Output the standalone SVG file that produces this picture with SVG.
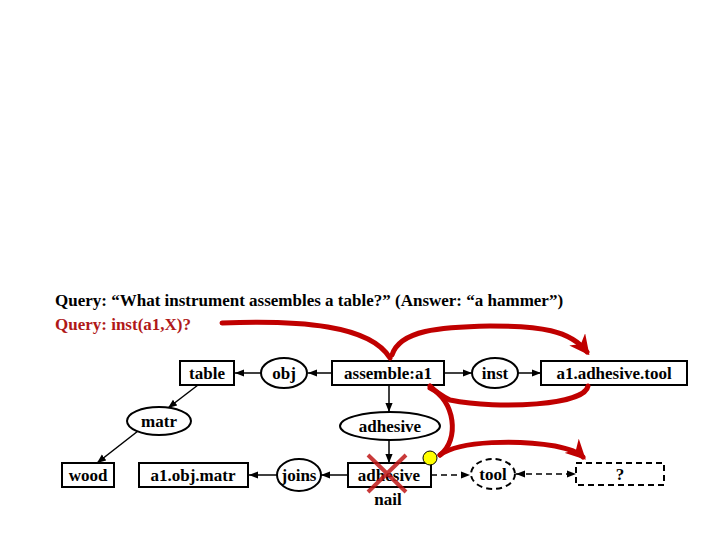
<svg xmlns="http://www.w3.org/2000/svg" width="720" height="540" viewBox="0 0 720 540">
<defs>
<style>
text{font-family:"Liberation Serif",serif;font-weight:bold;font-size:17px;text-anchor:middle}
.b{fill:#fff;stroke:#000;stroke-width:2}
.d{fill:#fff;stroke:#000;stroke-width:2;stroke-dasharray:6,4}
.c{stroke:#000;stroke-width:1.5;fill:none}
.r{stroke:#c00000;stroke-width:5;fill:none;stroke-linecap:round}
</style>
<marker id="a" viewBox="0 0 10 10" refX="10" refY="5" markerWidth="6" markerHeight="6" orient="auto-start-reverse"><path d="M0,1L10,5L0,9z" fill="#000"/></marker>
<marker id="ra" viewBox="0 0 10 10" refX="8" refY="5" markerWidth="4" markerHeight="4" orient="auto"><path d="M0,0L10,5L0,10L3,5z" fill="#c00000"/></marker>
</defs>
<rect width="720" height="540" fill="#fff"/>
<text x="55" y="306" style="text-anchor:start">Query: “What instrument assembles a table?” (Answer: “a hammer”)</text>
<text x="55" y="330" style="text-anchor:start;fill:#b01818">Query: inst(a1,X)?</text>
<g id="connectors">
<path class="c" d="M332,373H308" marker-end="url(#a)"/>
<path class="c" d="M261,373H235" marker-end="url(#a)"/>
<path class="c" d="M444,373H472" marker-end="url(#a)"/>
<path class="c" d="M518,373H541" marker-end="url(#a)"/>
<path class="c" d="M198,385L168,408" marker-end="url(#a)"/>
<path class="c" d="M138,431L97,463" marker-end="url(#a)"/>
<path class="c" d="M389,385V412" marker-end="url(#a)"/>
<path class="c" d="M389,440V463" marker-end="url(#a)"/>
<path class="c" d="M348,475H321" marker-end="url(#a)"/>
<path class="c" d="M277,475H249" marker-end="url(#a)"/>
<path class="c" d="M431,475H470" stroke-dasharray="6,4" marker-end="url(#a)"/>
<path class="c" d="M516,474H576" stroke-dasharray="6,4" marker-start="url(#a)" marker-end="url(#a)"/>
</g>
<g id="table"><rect class="b" x="180" y="361" width="54" height="24"/><text x="207" y="379">table</text></g>
<g id="obj"><ellipse class="b" cx="284" cy="373" rx="23" ry="15"/><text x="284" y="379">obj</text></g>
<g id="assemble"><rect class="b" x="332" y="361" width="112" height="24"/><text x="388" y="379">assemble:a1</text></g>
<g id="inst"><ellipse class="b" cx="495" cy="373" rx="23" ry="15"/><text x="495" y="379">inst</text></g>
<g id="tool1"><rect class="b" x="541" y="361" width="146" height="24"/><text x="614" y="379">a1.adhesive.tool</text></g>
<g id="matr"><ellipse class="b" cx="159" cy="421" rx="32" ry="14"/><text x="159" y="427">matr</text></g>
<g id="adhesiveRel"><ellipse class="b" cx="390" cy="426" rx="50" ry="14"/><text x="390" y="432">adhesive</text></g>
<g id="wood"><rect class="b" x="62" y="463" width="52" height="24"/><text x="88" y="481">wood</text></g>
<g id="a1objmatr"><rect class="b" x="139" y="463" width="109" height="24"/><text x="193" y="481">a1.obj.matr</text></g>
<g id="joins"><ellipse class="b" cx="299" cy="475" rx="22" ry="16"/><text x="299" y="481">joins</text></g>
<g id="adhesive"><rect class="b" x="348" y="463" width="83" height="24"/><text x="389" y="481">adhesive</text><text x="388" y="505">nail</text>
<path d="M368,455L406,492M406,455L368,492" stroke="#c01818" stroke-width="4" opacity="0.85"/></g>
<g id="tool"><ellipse class="d" cx="493" cy="474" rx="22" ry="15"/><text x="493" y="480">tool</text></g>
<g id="q"><rect class="d" x="576" y="463" width="88" height="22"/><text x="620" y="480">?</text></g>
<g id="red">
<path class="r" d="M222,323C300,320 370,325 390,358"/>
<path class="r" d="M392,355C400,330 440,327 490,326C540,326 570,330 587,352" marker-end="url(#ra)"/>
<path class="r" d="M588,386C585,405 500,410 450,400C440,395 434,390 430,386"/>
<path class="r" d="M430,388C455,400 460,440 440,455"/>
<path class="r" d="M440,455C460,440 520,440 555,446C570,449 578,452 583,457" marker-end="url(#ra)"/>
<circle cx="430" cy="458" r="7" fill="#ffff00" stroke="#000" stroke-width="1"/>
</g>
</svg>
